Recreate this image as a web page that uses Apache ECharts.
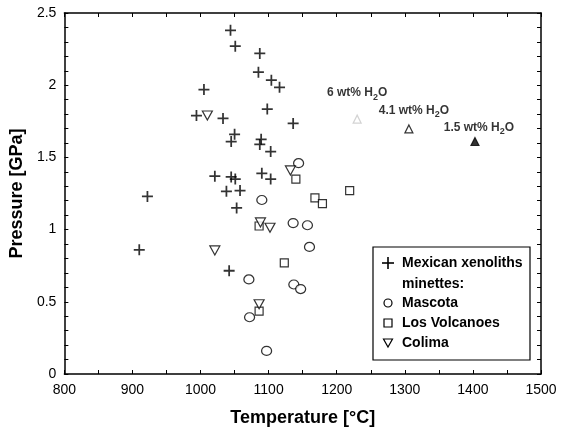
<!DOCTYPE html>
<html>
<head>
<meta charset="utf-8">
<script src="https://cdn.jsdelivr.net/npm/echarts@6/dist/echarts.min.js"></script>
<style>
  html, body { margin: 0; padding: 0; background: #fff; }
  #chart { width: 563px; height: 434px; }
</style>
</head>
<body>
<div id="chart"></div>
<script>
// [temperature °C, pressure GPa]
var xenoliths = [
  [1044, 2.38], [1051, 2.27], [1087, 2.22], [1085, 2.09], [1104, 2.035],
  [1116, 1.985], [1005, 1.97], [994, 1.79], [1033, 1.77], [1098, 1.835],
  [1136, 1.735], [1050, 1.66], [1045, 1.61], [1089, 1.625], [1087, 1.59],
  [1103, 1.54], [1021, 1.37], [1045, 1.365], [1051, 1.35], [1090, 1.39],
  [1103, 1.35], [1038, 1.265], [1058, 1.27], [922, 1.23], [1053, 1.15],
  [910, 0.86], [1042, 0.715]
];
var mascota = [
  [1144, 1.46], [1090, 1.205], [1136, 1.045], [1157, 1.03], [1160, 0.88],
  [1071, 0.655], [1137, 0.62], [1147, 0.588], [1072, 0.393], [1097, 0.16]
];
var losVolcanoes = [
  [1140, 1.35], [1168, 1.22], [1179, 1.18], [1219, 1.27], [1086, 1.025],
  [1123, 0.77], [1086, 0.435]
];
var colima = [
  [1010, 1.79], [1132, 1.41], [1088, 1.05], [1102, 1.013], [1021, 0.856],
  [1086, 0.483]
];
var expNames = ['6', '4.1', '1.5'];
var expPoints = [[1230, 1.765], [1306, 1.697], [1403, 1.61]];

var xTicks = { min: 800, max: 1500, step: 50 };
var yTicks = { min: 0, max: 2.5, step: 0.1 };

var font = 'Liberation Sans, Arial, sans-serif';
var plusPath = 'path://M4.2,0H5.8V4.2H10V5.8H5.8V10H4.2V5.8H0V4.2H4.2Z';
var downTri = 'path://M0,0L10,0L5,9Z';

var expStyles = [
  { fill: '#fff', border: '#c8c8c8', offset: [0, -26] },
  { fill: '#fff', border: '#000', offset: [5, -18] },
  { fill: '#000', border: '#000', offset: [4, -14] }
];
var expData = expPoints.map(function (p, i) {
  return {
    value: p,
    itemStyle: { color: expStyles[i].fill, borderColor: expStyles[i].border, borderWidth: 1.2 },
    label: {
      show: true, position: 'inside', offset: expStyles[i].offset,
      formatter: '{n|' + expNames[i] + ' wt% H}{s|2}{n|O}'
    }
  };
});

function xAxisCfg(pos, labels) {
  return {
    type: 'value', position: pos, min: xTicks.min, max: xTicks.max, interval: xTicks.step,
    axisLine: { show: true, onZero: false, lineStyle: { color: '#000', width: 1.5 } },
    axisTick: { show: true, inside: true, length: 4, lineStyle: { color: '#000' } },
    splitLine: { show: false },
    axisLabel: {
      show: labels, color: '#000', fontSize: 14, fontFamily: font, margin: 9,
      formatter: function (v) { return v % 100 === 0 ? String(v) : ''; }
    },
    name: labels ? 'Temperature [°C]' : '', nameLocation: 'middle', nameGap: 35,
    nameTextStyle: { color: '#000', fontSize: 18, fontWeight: 'bold', fontFamily: font }
  };
}
function yAxisCfg(pos, labels) {
  return {
    type: 'value', position: pos, min: yTicks.min, max: yTicks.max, interval: yTicks.step,
    axisLine: { show: true, onZero: false, lineStyle: { color: '#000', width: 1.5 } },
    axisTick: { show: true, inside: true, length: 4, lineStyle: { color: '#000' } },
    splitLine: { show: false },
    axisLabel: {
      show: labels, color: '#000', fontSize: 14, fontFamily: font, margin: 8,
      formatter: function (v) {
        return Math.abs(v * 2 - Math.round(v * 2)) < 1e-6 ? String(Math.round(v * 10) / 10) : '';
      }
    },
    name: labels ? 'Pressure [GPa]' : '', nameLocation: 'middle', nameGap: 31,
    nameTextStyle: { color: '#000', fontSize: 18, fontWeight: 'bold', fontFamily: font }
  };
}

function scatter(name, data, symbol, size, fill) {
  return {
    name: name, type: 'scatter', xAxisIndex: 0, yAxisIndex: 0,
    data: data, symbol: symbol, symbolSize: size,
    itemStyle: fill ? { color: '#000' } : { color: '#fff', borderColor: '#000', borderWidth: 1.2 }
  };
}

var lx = 388, ly = 263;
var legendRows = [
  { text: 'Mexican xenoliths', y: 0 },
  { text: 'minettes:', y: 21 },
  { text: 'Mascota', y: 40 },
  { text: 'Los Volcanoes', y: 60 },
  { text: 'Colima', y: 80 }
];
var legendGraphics = [{
  type: 'rect', shape: { x: 373, y: 247, width: 157, height: 113 },
  style: { fill: '#fff', stroke: '#000', lineWidth: 1.2 }, z: 10
}];
legendRows.forEach(function (r) {
  legendGraphics.push({
    type: 'text', x: 402, y: ly + r.y, z: 11,
    style: { text: r.text, fill: '#000', font: 'bold 14px ' + font, textVerticalAlign: 'middle' }
  });
});
legendGraphics.push(
  { type: 'line', z: 11, shape: { x1: lx - 6, y1: ly, x2: lx + 6, y2: ly }, style: { stroke: '#000', lineWidth: 1.6 } },
  { type: 'line', z: 11, shape: { x1: lx, y1: ly - 6, x2: lx, y2: ly + 6 }, style: { stroke: '#000', lineWidth: 1.6 } },
  { type: 'circle', z: 11, shape: { cx: lx, cy: ly + 40, r: 4 }, style: { fill: '#fff', stroke: '#000', lineWidth: 1.2 } },
  { type: 'rect', z: 11, shape: { x: lx - 4, y: ly + 56, width: 8, height: 8 }, style: { fill: '#fff', stroke: '#000', lineWidth: 1.2 } },
  { type: 'polygon', z: 11, shape: { points: [[lx - 4.5, ly + 76], [lx + 4.5, ly + 76], [lx, ly + 84]] }, style: { fill: '#fff', stroke: '#000', lineWidth: 1.2 } }
);

var option = {
  animation: false,
  backgroundColor: '#fff',
  grid: { left: 64, right: 22, top: 13, bottom: 60 },
  xAxis: [xAxisCfg('bottom', true), xAxisCfg('top', false)],
  yAxis: [yAxisCfg('left', true), yAxisCfg('right', false)],
  series: [
    scatter('Mexican xenoliths', xenoliths, plusPath, 11, true),
    scatter('Mascota', mascota, 'circle', [10, 9], false),
    scatter('Los Volcanoes', losVolcanoes, 'rect', 8, false),
    scatter('Colima', colima, downTri, [10, 9], false),
    {
      name: 'experiments', type: 'scatter', data: expData, symbol: 'triangle', symbolSize: 8,
      label: {
        color: '#000', textBorderWidth: 0, textBorderColor: 'transparent',
        rich: {
          n: { fontSize: 12, fontWeight: 'bold', fontFamily: font, color: '#000', textBorderWidth: 0 },
          s: { fontSize: 9, fontWeight: 'bold', fontFamily: font, color: '#000', textBorderWidth: 0, padding: [8, 0, 0, 0] }
        }
      }
    }
  ],
  graphic: legendGraphics
};

var myChart = echarts.init(document.getElementById('chart'));
myChart.setOption(option);
</script>
</body>
</html>
